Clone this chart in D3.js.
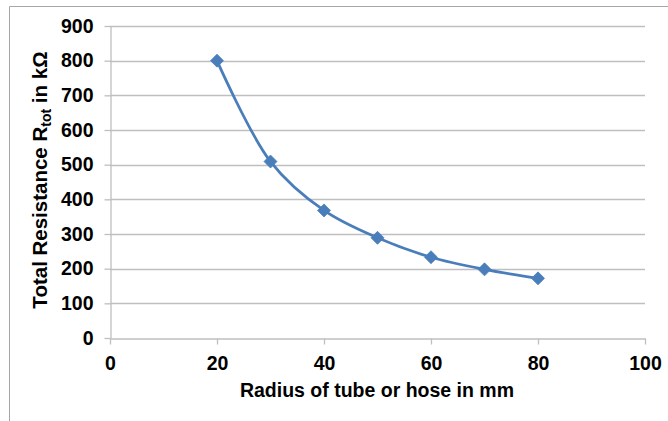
<!DOCTYPE html>
<html><head><meta charset="utf-8">
<script src="https://cdn.jsdelivr.net/npm/d3@7"></script>
<style>body{margin:0;background:#fff;} text{font-family:"Liberation Sans",Arial,sans-serif;}</style>
</head><body>
<svg id="c" width="668" height="421"></svg>
<script>
const radius = [20, 30, 40, 50, 60, 70, 80];
const resistance = [800, 509, 368, 289, 233, 198, 172];
const xTicks = [0, 20, 40, 60, 80, 100];
const yTicks = [0, 100, 200, 300, 400, 500, 600, 700, 800, 900];

const svg = d3.select("#c");
const L = 110, R = 645, T = 26, B = 338;
const FS = 19.5;
const x = d3.scaleLinear().domain([0, 100]).range([L, R]);
const y = d3.scaleLinear().domain([0, 900]).range([B, T]);

// outer border (top & left visible)
svg.append("path").attr("d", "M9.5,421 V6.5 H668").attr("fill", "none").attr("stroke", "#a6a6a6").attr("stroke-width", 1);

// gridlines
svg.append("g").selectAll("line").data(yTicks.filter(d => d > 0)).join("line")
  .attr("x1", L).attr("x2", R).attr("y1", d => Math.round(y(d)) + 0.5).attr("y2", d => Math.round(y(d)) + 0.5)
  .attr("stroke", "#bfbfbf").attr("stroke-width", 1.3);

// y axis
const ya = svg.append("g").attr("transform", `translate(${L + 0.5},0)`)
  .call(d3.axisLeft(y).tickValues(yTicks).tickSize(6).tickSizeOuter(0).tickPadding(11));
ya.select(".domain").attr("stroke", "#bfbfbf").attr("stroke-width", 1.3);
ya.selectAll(".tick line").attr("stroke", "#bfbfbf").attr("stroke-width", 1.3);
ya.selectAll("text").attr("font-size", FS).attr("font-weight", "bold").attr("fill", "#000")
  .attr("font-family", "'Liberation Sans',Arial,sans-serif");

// x axis
const xa = svg.append("g").attr("transform", `translate(0,${B + 0.5})`)
  .call(d3.axisBottom(x).tickValues(xTicks).tickSize(6).tickSizeOuter(0).tickPadding(12));
xa.select(".domain").attr("stroke", "#bfbfbf").attr("stroke-width", 1.3);
xa.selectAll(".tick line").attr("stroke", "#bfbfbf").attr("stroke-width", 1.3);
xa.selectAll("text").attr("font-size", FS).attr("font-weight", "bold").attr("fill", "#000")
  .attr("font-family", "'Liberation Sans',Arial,sans-serif");

// line
const pts = radius.map((r, i) => [r, resistance[i]]);
svg.append("path").datum(pts)
  .attr("d", d3.line().x(d => x(d[0])).y(d => y(d[1])).curve(d3.curveCatmullRom.alpha(0.5)))
  .attr("fill", "none").attr("stroke", "#4a7ebb").attr("stroke-width", 2.8);

// diamond markers
svg.append("g").selectAll("path").data(pts).join("path")
  .attr("transform", d => `translate(${x(d[0])},${y(d[1])})`)
  .attr("d", "M0,-6.5 L6.5,0 L0,6.5 L-6.5,0 Z")
  .attr("fill", "#4a7ebb").attr("stroke", "#4a7ebb").attr("stroke-width", 0.8);

// axis titles
svg.append("text").attr("x", 377).attr("y", 397).attr("text-anchor", "middle")
  .attr("font-size", FS).attr("font-weight", "bold").attr("fill", "#000")
  .text("Radius of tube or hose in mm");

const yt = svg.append("text").attr("transform", "translate(47,180) rotate(-90)")
  .attr("text-anchor", "middle").attr("font-size", 20.5).attr("font-weight", "bold").attr("fill", "#000");
yt.append("tspan").text("Total Resistance R");
yt.append("tspan").attr("font-size", 14).attr("dy", 4).text("tot");
yt.append("tspan").attr("dy", -4).text(" in kΩ");
</script>
</body></html>
